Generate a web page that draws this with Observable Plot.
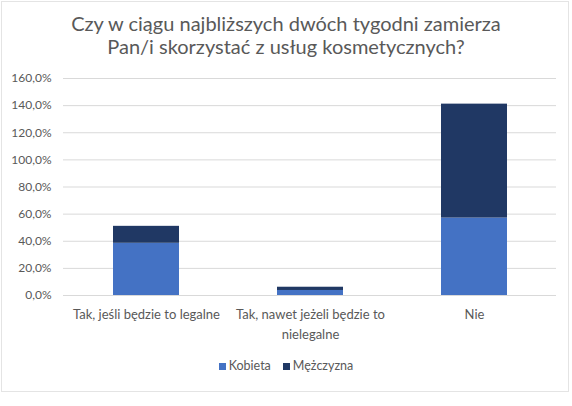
<!DOCTYPE html>
<html lang="pl">
<head>
<meta charset="utf-8">
<title>Usługi kosmetyczne</title>
<script src="https://cdn.jsdelivr.net/npm/d3@7"></script>
<script src="https://cdn.jsdelivr.net/npm/@observablehq/plot@0.6"></script>
<style>
  body {
    margin: 0;
    background: #fff;
    font-family: Lato, 'Open Sans', sans-serif;
  }
  #frame {
    position: absolute;
    left: 1px;
    top: 1px;
    width: 568px;
    height: 391px;
    border: 1px solid #e4e4e4;
    box-sizing: border-box;
  }
  #wrap {
    position: relative;
    width: 572px;
  }
  #title {
    height: 60px;
    box-sizing: border-box;
    padding-top: 12px;
    text-align: center;
    font-size: 20px;
    line-height: 23px;
    color: #595959;
  }
  #legend {
    text-align: center;
    font-size: 12.5px;
    color: #595959;
    margin-top: 3px;
  }
  #legend span.item { margin: 0 6px; }
  #legend span.sw {
    display: inline-block;
    width: 7px;
    height: 7px;
    margin-right: 3px;
  }
</style>
</head>
<body>
<div id="frame"></div>
<div id="wrap">
  <div id="title">Czy w ciągu najbliższych dwóch tygodni zamierza<br>Pan/i skorzystać z usług kosmetycznych?</div>
  <div id="graphic"></div>
  <div id="legend"></div>
</div>

<script>
  // answers on the x axis
  const answers = ["Tak, jeśli będzie to legalne", "Tak, nawet jeżeli będzie to\nnielegalne", "Nie"];
  // series
  const series = ["Kobieta", "Mężczyzna"];
  const kobieta = [38.5, 3.7, 57.1];
  const mezczyzna = [12.5, 2.4, 84.0];
  const yTicks = [0, 20, 40, 60, 80, 100, 120, 140, 160];
  const colors = ["#4472C4", "#203864"];

  const data = [];
  answers.forEach((a, i) => {
    data.push({answer: a, sex: series[0], value: kobieta[i]});
    data.push({answer: a, sex: series[1], value: mezczyzna[i]});
  });

  const fmt = d => d.toFixed(1).replace(".", ",") + "%";

  const chart = Plot.plot({
    width: 572,
    height: 295,
    marginTop: 18,
    marginBottom: 60,
    marginLeft: 63,
    marginRight: 16,
    style: {fontSize: "12px", fontFamily: "Lato, 'Open Sans', sans-serif", color: "#595959", background: "transparent"},
    x: {domain: answers, paddingInner: 0.6, paddingOuter: 0.3, label: null},
    y: {domain: [0, 160], label: null},
    color: {domain: series, range: colors},
    marks: [
      Plot.gridY(yTicks, {stroke: "#d9d9d9", strokeOpacity: 1}),
      Plot.axisY(yTicks, {tickSize: 0, tickPadding: 12, tickFormat: fmt, fill: "#595959", label: null}),
      Plot.axisX({tickSize: 0, tickPadding: 10, lineHeight: 1.5, fontSize: 13, fill: "#595959", label: null}),
      Plot.barY(data, {x: "answer", y: "value", fill: "sex", order: series}),
      Plot.ruleY([0], {stroke: "#d9d9d9"})
    ]
  });
  document.getElementById("graphic").appendChild(chart);

  const legend = document.getElementById("legend");
  series.forEach((s, i) => {
    const item = document.createElement("span");
    item.className = "item";
    const sw = document.createElement("span");
    sw.className = "sw";
    sw.style.background = colors[i];
    item.appendChild(sw);
    item.appendChild(document.createTextNode(s));
    legend.appendChild(item);
  });
</script>
</body>
</html>
